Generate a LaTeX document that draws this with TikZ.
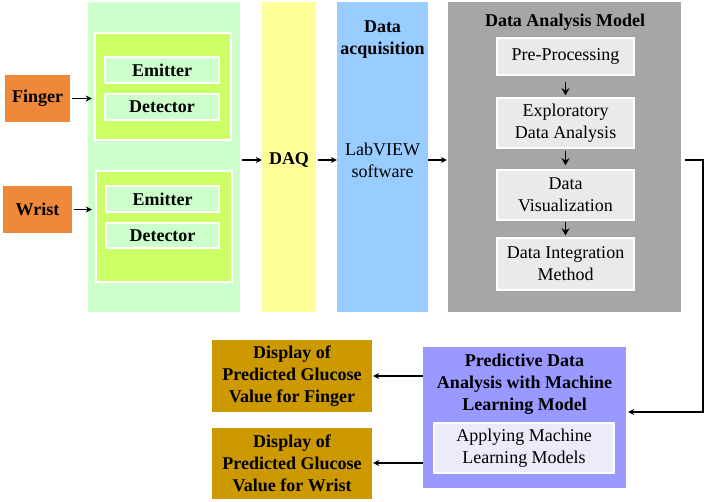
\documentclass[tikz,border=0pt]{standalone}
\usepackage{fontspec}
\setmainfont{Liberation Serif}
\usetikzlibrary{arrows.meta}
\definecolor{orng}{RGB}{240,136,58}
\definecolor{lgreen}{RGB}{204,255,204}
\definecolor{ygreen}{RGB}{204,255,102}
\definecolor{lyellow}{RGB}{255,255,153}
\definecolor{lblue}{RGB}{153,204,255}
\definecolor{mgray}{RGB}{166,166,166}
\definecolor{lgray}{RGB}{234,234,234}
\definecolor{lpurple}{RGB}{153,153,255}
\definecolor{paleviolet}{RGB}{235,235,250}
\definecolor{gold}{RGB}{204,153,0}
\tikzset{
  txt/.style={font=\fontsize{18}{22}\selectfont, align=center, inner sep=0pt},
  bold/.style={txt, font=\fontsize{18}{22}\selectfont\bfseries},
  panel/.style={rectangle, inner sep=0pt},
  whitebox/.style={panel, draw=white, line width=1.5pt},
  arr/.style={line width=1.7pt, -{Stealth[length=6pt,width=6pt]}},
  varr/.style={line width=1.9pt, -{Stealth[length=7pt,width=8pt]}},
}
\begin{document}
\begin{tikzpicture}[x=1pt,y=-1pt]
\useasboundingbox (0,0) rectangle (706,502);
% sensors
\node[panel, fill=orng, minimum width=65pt, minimum height=47pt, bold] (finger) at (37.5,98.5) {Finger};
\node[panel, fill=orng, minimum width=69pt, minimum height=47pt, bold] (wrist) at (37.5,209.5) {Wrist};
% green panel
\node[panel, fill=lgreen, minimum width=152pt, minimum height=310pt] (green) at (164,157) {};
\node[whitebox, fill=ygreen, minimum width=136pt, minimum height=107pt] (inA) at (163,86.5) {};
\node[whitebox, fill=lgreen, minimum width=114pt, minimum height=26pt, bold] (emA) at (162,70) {Emitter};
\node[whitebox, fill=lgreen, minimum width=114pt, minimum height=26pt, bold] (deA) at (162,107) {Detector};
\node[whitebox, fill=ygreen, minimum width=136pt, minimum height=111pt] (inB) at (164,226.5) {};
\node[whitebox, fill=lgreen, minimum width=113pt, minimum height=26pt, bold] (emB) at (162.5,199) {Emitter};
\node[whitebox, fill=lgreen, minimum width=113pt, minimum height=25pt, bold] (deB) at (162.5,235.5) {Detector};
% DAQ
\node[panel, fill=lyellow, minimum width=54pt, minimum height=310pt] (daq) at (289,157) {};
\node[bold] (daqt) at (289,160) {DAQ};
% data acquisition
\node[panel, fill=lblue, minimum width=91pt, minimum height=310pt] (acq) at (382.5,157) {};
\node[bold] (acqt) at (382.5,40) {Data\\acquisition};
\node[txt] (lab) at (382.5,160) {LabVIEW\\software};
% data analysis model
\node[panel, fill=mgray, minimum width=233pt, minimum height=310pt] (gray) at (564.5,157) {};
\node[bold] (grayt) at (565,22) {Data Analysis Model};
\node[whitebox, fill=lgray, minimum width=137pt, minimum height=37pt, txt] (pre) at (565.5,56.5) {Pre-Processing};
\node[whitebox, fill=lgray, minimum width=137pt, minimum height=50pt, txt] (eda) at (565.5,123) {Exploratory\\Data Analysis};
\node[whitebox, fill=lgray, minimum width=137pt, minimum height=50pt, txt] (vis) at (565.5,195) {Data\\Visualization};
\node[whitebox, fill=lgray, minimum width=137pt, minimum height=52pt, txt] (integ) at (565.5,264) {Data Integration\\Method};
% predictive
\node[panel, fill=lpurple, minimum width=203pt, minimum height=141pt] (pred) at (524.5,417.5) {};
\node[bold] (predt) at (524.5,384) {Predictive Data\\Analysis with Machine\\Learning Model};
\node[whitebox, fill=paleviolet, minimum width=180pt, minimum height=50pt, txt] (apply) at (524,448) {Applying Machine\\Learning Models};
% displays
\node[panel, fill=gold, minimum width=160pt, minimum height=72pt, bold] (dispF) at (292,376) {Display of\\Predicted Glucose\\Value for Finger};
\node[panel, fill=gold, minimum width=160pt, minimum height=71pt, bold] (dispW) at (292,463) {Display of\\Predicted Glucose\\Value for Wrist};
% connectors
\draw[arr, shorten <=2pt, shorten >=-4pt] (finger.east) -- (finger.east -| green.west);
\draw[arr, shorten <=2pt, shorten >=-4pt] (wrist.east) -- (wrist.east -| green.west);
\draw[arr, shorten <=2pt] ([yshift=-3pt]green.east) -- ([yshift=-3pt]green.east -| daq.west);
\draw[arr, shorten <=2pt] ([yshift=-3pt]daq.east) -- ([yshift=-3pt]daq.east -| acq.west);
\draw[arr, shorten >=1pt] ([yshift=-3pt]acq.east) -- ([yshift=-3pt]acq.east -| gray.west);
\draw[varr, shorten <=6pt, shorten >=2pt] (pre.south) -- (eda.north);
\draw[varr, shorten <=2pt, shorten >=4pt] (eda.south) -- (vis.north);
\draw[varr, shorten <=1pt, shorten >=2pt] (vis.south) -- (integ.north);
\draw[arr, shorten <=4pt, shorten >=2pt] ([yshift=-3pt]gray.east) -- ++(22,0) |- ([yshift=5.5pt]pred.east);
\draw[arr, shorten >=1pt] (pred.west |- dispF.east) -- (dispF.east);
\draw[arr, shorten >=1pt] (pred.west |- dispW.east) -- (dispW.east);
\end{tikzpicture}
\end{document}
